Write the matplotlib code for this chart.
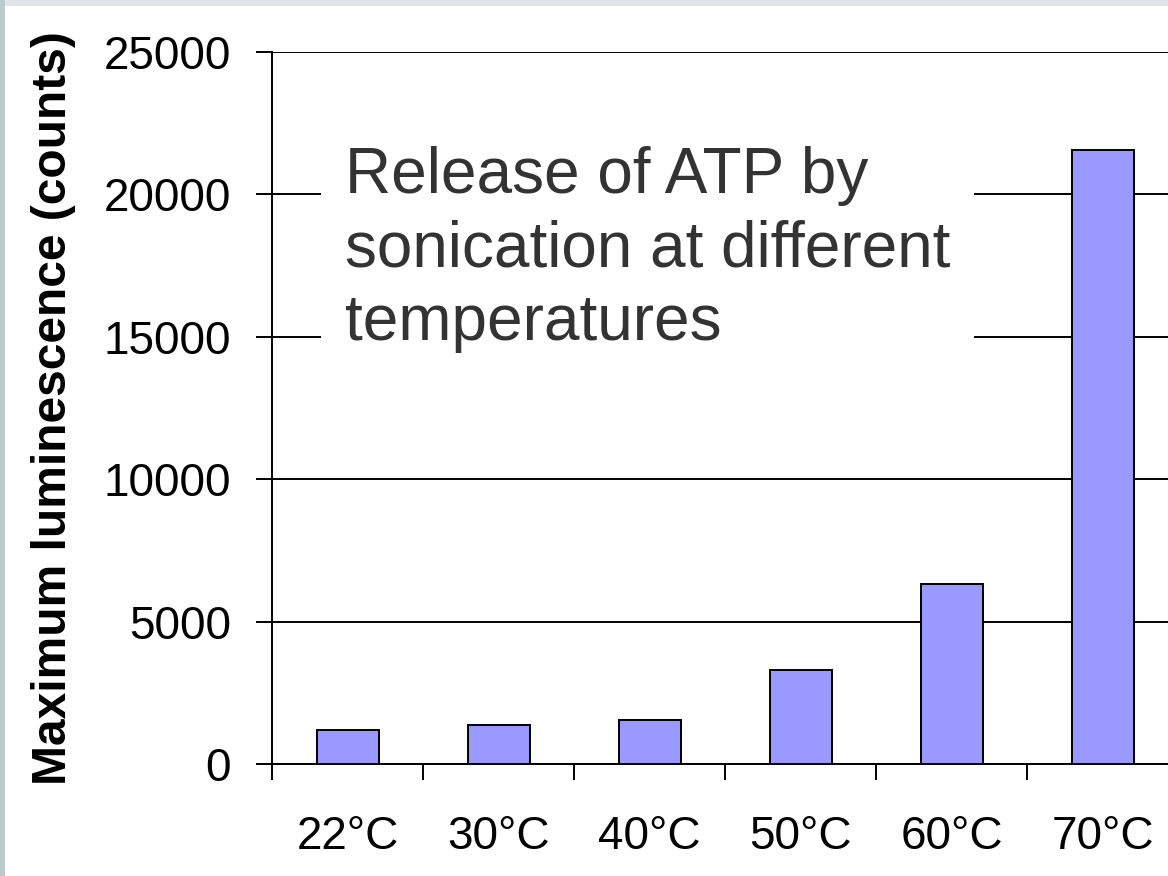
import matplotlib.pyplot as plt
from matplotlib.patches import Rectangle

# data
temps = ['22°C', '30°C', '40°C', '50°C', '60°C', '70°C']
max_lum = [1200, 1380, 1560, 3300, 6330, 21560]
yticks = [0, 5000, 10000, 15000, 20000, 25000]

plt.rcParams['font.family'] = ['Liberation Sans', 'DejaVu Sans']

fig = plt.figure(figsize=(11.68, 8.76), dpi=100)

# thin frame strips along top and left edge
fig.patches.append(Rectangle((0, 1 - 6 / 876), 1, 6 / 876, transform=fig.transFigure,
                             facecolor='#dfe4e7', edgecolor='none', zorder=0))
fig.patches.append(Rectangle((0, 0), 5 / 1168, 1, transform=fig.transFigure,
                             facecolor='#b8ccd0', edgecolor='none', zorder=1))

ax = fig.add_axes([272 / 1168, 112 / 876, 906.4 / 1168, 712 / 876])

x = list(range(len(temps)))
ax.bar(x, max_lum, width=0.41, color='#9999ff', edgecolor='black', linewidth=1.4, zorder=3)

ax.set_xlim(-0.5, 5.5)
ax.set_ylim(0, 25000)
ax.set_yticks(yticks)
ax.set_yticklabels([str(v) for v in yticks], fontsize=33)
ax.set_xticks(x)
ax.set_xticklabels(temps, fontsize=33)
ax.set_xticks([i - 0.5 for i in range(len(temps))], minor=True)
ax.tick_params(axis='x', which='major', length=0, pad=37)
ax.tick_params(axis='x', which='minor', length=11.5, width=1.4, direction='out')
ax.tick_params(axis='y', length=11.5, width=1.4, direction='out', pad=18)

ax.grid(axis='y', color='black', linewidth=1.4)
ax.set_axisbelow(True)
for s in ['top', 'right']:
    ax.spines[s].set_visible(False)
for s in ['left', 'bottom']:
    ax.spines[s].set_linewidth(1.4)

ax.set_ylabel('Maximum luminescence (counts)', fontsize=34.5, fontweight='bold', labelpad=20)

fig.text(345 / 1168, 1 - 146 / 876, 'Release of ATP by\nsonication at different\ntemperatures',
         fontsize=46, color='#333333', ha='left', va='top', linespacing=1.29,
         bbox=dict(facecolor='white', edgecolor='none', pad=17), zorder=5)

fig.savefig('out.png', dpi=100)
